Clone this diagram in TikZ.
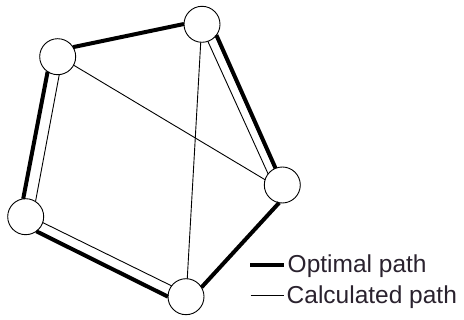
\documentclass[tikz,border=0pt]{standalone}
\usepackage{fontspec}
\setmainfont{Liberation Sans}
\definecolor{txt}{RGB}{42,34,46}
\begin{document}
\begin{tikzpicture}[x=1pt,y=-1pt,
  vertex/.style={circle,draw=black,line width=0.9pt,fill=white,minimum size=36pt,inner sep=0pt,outer sep=0pt},
  optimal/.style={line width=4pt,black},
  calc/.style={line width=0.9pt,black},
  legend/.style={anchor=base west,text=txt,inner sep=0pt,font=\fontsize{24.5}{29}\selectfont}]
\useasboundingbox (0,0) rectangle (464,320);
\node[vertex] (A) at (57.7,56.7) {};
\node[vertex] (B) at (202,24.3) {};
\node[vertex] (C) at (282.3,185) {};
\node[vertex] (D) at (186,296.7) {};
\node[vertex] (E) at (25.7,216.7) {};
% optimal path
\draw[optimal] (A.32) -- (B.179);
\draw[optimal] (B.-37) -- (C.112);
\draw[optimal] (C.-100) -- (D.31);
\draw[optimal] (D.180) -- (E.-54);
\draw[optimal] (E.98) -- (A.-124);
% calculated path
\draw[calc] (A.-85) -- (E.57);
\draw[calc] (E.-19) -- (D.143);
\draw[calc] (D.86) -- (B.-94);
\draw[calc] (B.-71) -- (C.142);
\draw[calc] (C.163) -- (A.-28);
% legend
\coordinate (l1a) at (250,265.3);
\coordinate (l1b) at (283.5,265.3);
\coordinate (l2a) at (250.5,295.7);
\coordinate (l2b) at (284,295.7);
\draw[optimal] (l1a) -- (l1b);
\draw[calc,line width=0.7pt] (l2a) -- (l2b);
\node[legend] (t1) at (287.5,272.8) {Optimal path};
\node[legend] (t2) at (286.5,303.5) {Calculated path};
\end{tikzpicture}
\end{document}
